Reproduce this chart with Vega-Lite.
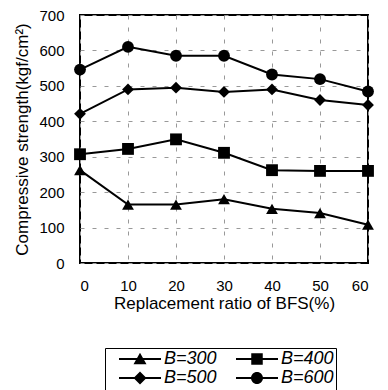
{
  "$schema": "https://vega.github.io/schema/vega-lite/v6.json",
  "autosize": "none",
  "width": 288,
  "height": 248,
  "padding": {"left": 80, "top": 15, "right": 20, "bottom": 127},
  "background": "white",
  "config": {
    "font": "Liberation Sans",
    "view": {"stroke": "black", "strokeWidth": 2},
    "axis": {
      "grid": true, "gridColor": "#999", "gridDash": [4, 8], "gridWidth": 1,
      "ticks": false, "domain": false,
      "labelFont": "Liberation Sans", "labelFontSize": 15, "labelColor": "black",
      "titleFont": "Liberation Sans", "titleFontSize": 17, "titleFontWeight": "normal", "titleColor": "black"
    }
  },
  "data": {"values": [
    {"x": 0, "B": "B=300", "v": 262}, {"x": 10, "B": "B=300", "v": 165}, {"x": 20, "B": "B=300", "v": 165}, {"x": 30, "B": "B=300", "v": 180}, {"x": 40, "B": "B=300", "v": 153}, {"x": 50, "B": "B=300", "v": 141}, {"x": 60, "B": "B=300", "v": 108},
    {"x": 0, "B": "B=400", "v": 307}, {"x": 10, "B": "B=400", "v": 322}, {"x": 20, "B": "B=400", "v": 349}, {"x": 30, "B": "B=400", "v": 311}, {"x": 40, "B": "B=400", "v": 262}, {"x": 50, "B": "B=400", "v": 260}, {"x": 60, "B": "B=400", "v": 260},
    {"x": 0, "B": "B=500", "v": 421}, {"x": 10, "B": "B=500", "v": 490}, {"x": 20, "B": "B=500", "v": 495}, {"x": 30, "B": "B=500", "v": 483}, {"x": 40, "B": "B=500", "v": 490}, {"x": 50, "B": "B=500", "v": 460}, {"x": 60, "B": "B=500", "v": 446},
    {"x": 0, "B": "B=600", "v": 546}, {"x": 10, "B": "B=600", "v": 610}, {"x": 20, "B": "B=600", "v": 585}, {"x": 30, "B": "B=600", "v": 585}, {"x": 40, "B": "B=600", "v": 532}, {"x": 50, "B": "B=600", "v": 519}, {"x": 60, "B": "B=600", "v": 484}
  ]},
  "encoding": {
    "x": {"field": "x", "type": "quantitative", "scale": {"domain": [0, 60], "nice": false, "zero": false},
      "axis": {"values": [0, 10, 20, 30, 40, 50, 60], "title": "Replacement ratio of BFS(%)", "labelPadding": 15, "titlePadding": 2}},
    "y": {"field": "v", "type": "quantitative", "scale": {"domain": [0, 700], "nice": false},
      "axis": {"values": [0, 100, 200, 300, 400, 500, 600, 700], "title": "Compressive strength(kgf/cm²)", "labelPadding": 16, "titlePadding": 7}}
  },
  "layer": [
    {
      "mark": {"type": "line", "color": "black", "strokeWidth": 2},
      "encoding": {"detail": {"field": "B"}}
    },
    {
      "mark": {"type": "point", "filled": true, "color": "black", "size": 140, "opacity": 1},
      "encoding": {
        "shape": {"field": "B", "type": "nominal",
          "scale": {"domain": ["B=300", "B=400", "B=500", "B=600"], "range": ["triangle-up", "square", "diamond", "circle"]},
          "legend": null}
      }
    },
    {
      "transform": [{"filter": "false"}],
      "mark": {"type": "point", "filled": true, "color": "black", "size": 100},
      "encoding": {
        "shape": {"field": "B", "type": "nominal",
          "scale": {"domain": ["B=300", "B=500", "B=400", "B=600"], "range": [
            "M-4.2,-0.2L4.2,-0.2L4.2,0.2L-4.2,0.2ZM0,-1.25L1.3,1.05L-1.3,1.05Z",
            "M-4.2,-0.2L4.2,-0.2L4.2,0.2L-4.2,0.2ZM0,-1.3L1.3,0L0,1.3L-1.3,0Z",
            "M-4.2,-0.2L4.2,-0.2L4.2,0.2L-4.2,0.2ZM-1.15,-1.15L1.15,-1.15L1.15,1.15L-1.15,1.15Z",
            "M-4.2,-0.2L4.2,-0.2L4.2,0.2L-4.2,0.2ZM1.2,0A1.2,1.2,0,1,1,-1.2,0A1.2,1.2,0,1,1,1.2,0Z"
          ]},
          "legend": {
            "title": null, "orient": "none", "legendX": 25, "legendY": 333,
            "columns": 2, "columnPadding": 7, "rowPadding": 0,
            "symbolSize": 100, "symbolOpacity": 1, "symbolFillColor": "black",
            "symbolOffset": 24, "labelOffset": 15,
            "labelFontSize": 18, "labelFont": "Liberation Sans", "labelFontStyle": "italic", "labelColor": "black",
            "strokeColor": "black", "padding": 2
          }
        }
      }
    }
  ],
  "resolve": {"scale": {"shape": "independent"}, "legend": {"shape": "independent"}}
}
